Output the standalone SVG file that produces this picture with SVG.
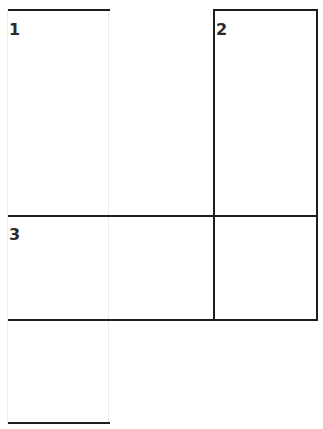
<svg xmlns="http://www.w3.org/2000/svg" width="323" height="429" viewBox="0 0 323 429">
<style>
.edge{stroke:#1e1e1e;stroke-width:2;fill:none;stroke-linecap:square}
.faint{stroke:#ececec;stroke-width:1;fill:none}
.lbl{font-family:"DejaVu Sans",sans-serif;font-size:16px;font-weight:bold;fill:#2a2a2a}
</style>
<rect x="0" y="0" width="323" height="429" fill="#ffffff"/>
<g id="guides">
<line class="faint" x1="7.5" y1="10" x2="7.5" y2="424"/>
<line class="faint" x1="108.5" y1="10" x2="108.5" y2="424"/>
</g>
<g id="node1">
<line class="edge" x1="9" y1="10" x2="109" y2="10"/>
<text class="lbl" x="9" y="35">1</text>
</g>
<g id="node2">
<path class="edge" d="M214 216 V10 H317 V320"/>
<text class="lbl" x="216" y="35">2</text>
</g>
<g id="node3">
<line class="edge" x1="9" y1="216" x2="317" y2="216"/>
<line class="edge" x1="214" y1="216" x2="214" y2="320"/>
<line class="edge" x1="9" y1="320" x2="317" y2="320"/>
<text class="lbl" x="9" y="240">3</text>
</g>
<g id="node4">
<line class="edge" x1="9" y1="423" x2="109" y2="423"/>
</g>
</svg>
